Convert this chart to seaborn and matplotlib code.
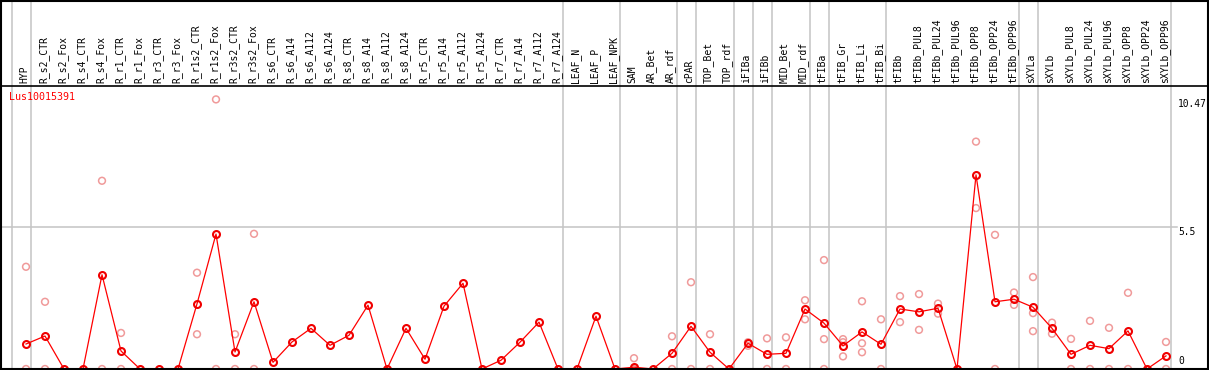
import numpy as np
import pandas as pd
import matplotlib
matplotlib.use("Agg")
import matplotlib.pyplot as plt
from matplotlib.lines import Line2D
import seaborn as sns

# ---------------- data ----------------
gene = "Lus10015391"
samples = ["HYP", "R_s2_CTR", "R_s2_Fox", "R_s4_CTR", "R_s4_Fox", "R_r1_CTR", "R_r1_Fox",
           "R_r3_CTR", "R_r3_Fox", "R_r1s2_CTR", "R_r1s2_Fox", "R_r3s2_CTR", "R_r3s2_Fox",
           "R_s6_CTR", "R_s6_A14", "R_s6_A112", "R_s6_A124", "R_s8_CTR", "R_s8_A14",
           "R_s8_A112", "R_s8_A124", "R_r5_CTR", "R_r5_A14", "R_r5_A112", "R_r5_A124",
           "R_r7_CTR", "R_r7_A14", "R_r7_A112", "R_r7_A124", "LEAF_N", "LEAF_P", "LEAF_NPK",
           "SAM", "AR_Bet", "AR_rdf", "cPAR", "TOP_Bet", "TOP_rdf", "iFIBa", "iFIBb",
           "MID_Bet", "MID_rdf", "tFIBa", "tFIB_Gr", "tFIB_Li", "tFIB_Bi", "tFIBb",
           "tFIBb_PUL8", "tFIBb_PUL24", "tFIBb_PUL96", "tFIBb_OPP8", "tFIBb_OPP24",
           "tFIBb_OPP96", "sXYLa", "sXYLb", "sXYLb_PUL8", "sXYLb_PUL24", "sXYLb_PUL96",
           "sXYLb_OPP8", "sXYLb_OPP24", "sXYLb_OPP96"]

means = [0.97, 1.28, 0, 0, 3.66, 0.70, 0, 0, 0, 2.53, 5.24, 0.66, 2.61,
         0.26, 1.05, 1.58, 0.92, 1.31, 2.48, 0, 1.58, 0.38, 2.44, 3.33, 0,
         0.34, 1.04, 1.82, 0, 0, 2.05, 0,
         0.07, 0, 0.61, 1.66, 0.65, 0, 1.00, 0.57, 0.61, 2.33, 1.78, 0.90, 1.44, 0.96,
         2.33, 2.22, 2.36, 0, 7.54, 2.61, 2.71, 2.40, 1.58, 0.57, 0.92, 0.79, 1.48, 0, 0.51]

replicates = {
    "HYP": [3.97, 0], "R_s2_CTR": [2.61, 0], "R_s4_Fox": [7.31, 0], "R_r1_CTR": [1.40, 0],
    "R_r1s2_CTR": [3.74, 1.35], "R_r1s2_Fox": [10.47, 0], "R_r3s2_CTR": [1.35, 0],
    "R_r3s2_Fox": [5.25, 0], "SAM": [0.42, 0], "AR_rdf": [1.27, 0], "cPAR": [3.37, 0],
    "TOP_Bet": [1.35, 0], "iFIBa": [1.04, 0.90], "iFIBb": [1.19, 0], "MID_Bet": [1.23, 0],
    "MID_rdf": [2.67, 1.93], "tFIBa": [4.23, 1.16, 0], "tFIB_Gr": [1.16, 1.04, 0.49],
    "tFIB_Li": [2.63, 1.00, 0.65], "tFIB_Bi": [1.93, 0], "tFIBb": [2.83, 1.82],
    "tFIBb_PUL8": [2.91, 1.52], "tFIBb_PUL24": [2.54, 2.15], "tFIBb_OPP8": [8.83, 6.25],
    "tFIBb_OPP24": [5.21, 0], "tFIBb_OPP96": [2.97, 2.49], "sXYLa": [3.57, 2.17, 1.47],
    "sXYLb": [1.80, 1.37], "sXYLb_PUL8": [1.17, 0], "sXYLb_PUL24": [1.87, 0],
    "sXYLb_PUL96": [1.60, 0], "sXYLb_OPP8": [2.96, 0], "sXYLb_OPP96": [1.05, 0],
}

y_ticks = [0, 5.5, 10.47]
y_tick_labels = ["0", "5.5", "10.47"]
group_breaks = [-1, 0, 28, 31, 34, 35, 37, 38, 39, 41, 42, 45, 52, 53, 60]

# ---------------- frames ----------------
pos = {s: i for i, s in enumerate(samples)}
mean_df = pd.DataFrame({"x": np.arange(len(samples)), "value": means})
rep_rows = [(pos[s], v) for s, vals in replicates.items() for v in vals]
rep_df = pd.DataFrame(rep_rows, columns=["x", "value"])

# ---------------- layout ----------------
W, H = 1209, 370
K = 25.75            # pixels per unit
X0, DX = 26, 19      # pixel of first column, column spacing
TOP, BOT = 85, 369   # plot region pixel rows

fig = plt.figure(figsize=(W / 100, H / 100), dpi=100)
fig.patch.set_facecolor("white")
ax = fig.add_axes([0, 1 - BOT / H, 1, (BOT - TOP) / H])
ax.set_xlim(-X0 / DX, (W - X0) / DX)
ax.set_ylim(0, (BOT - TOP) / K)
ax.axis("off")

mono = "DejaVu Sans Mono"
grid_c = "#c4c4c4"

# vertical group separators (through header too)
for b in group_breaks:
    ax.axvline(b + 4.7 / DX, ymin=0, ymax=BOT / (BOT - TOP), color=grid_c, lw=1.1,
               clip_on=False, zorder=0)
# horizontal grid at 5.5
ax.axhline(5.5, xmin=0, xmax=1177 / W, color=grid_c, lw=1.1, zorder=0)

# replicates
sns.scatterplot(data=rep_df, x="x", y="value", ax=ax, marker="o", s=24,
                facecolor="none", edgecolor="#f09a9a", linewidth=1.1,
                zorder=2, clip_on=False, legend=False)
# means
sns.lineplot(data=mean_df, x="x", y="value", ax=ax, color="#ff0000", linewidth=0.9,
             marker="o", markersize=5.0, markerfacecolor="none", markeredgecolor="#f00000",
             markeredgewidth=1.5, estimator=None, sort=False, zorder=3, clip_on=False,
             legend=False)

# header labels
xt = ax.get_xaxis_transform()
for i, s in enumerate(samples):
    ax.text(i - 1.5 / DX, 1 + 2 / (BOT - TOP), s, transform=xt, rotation=90,
            ha="center", va="bottom", fontsize=7.0, family=mono, color="black")

# right value labels
yt = ax.get_yaxis_transform()
for v, lab in zip(y_ticks, y_tick_labels):
    if v == 0:
        ax.text(1178 / W, v + 3 / K, lab, transform=yt, ha="left", va="bottom",
                fontsize=6.9, family=mono, color="black")
    else:
        ax.text(1178 / W, v, lab, transform=yt, ha="left", va="top",
                fontsize=6.9, family=mono, color="black")

# title
fig.text(9 / W, 1 - 92 / H, gene, ha="left", va="top", fontsize=7.2, family=mono,
         color="#ff0000")

# black frame lines
def hline(py, lw=1.5):
    fig.add_artist(Line2D([0, 1], [1 - py / H, 1 - py / H], color="black", lw=lw,
                          transform=fig.transFigure))

def vline(px, lw=1.5):
    fig.add_artist(Line2D([px / W, px / W], [0, 1], color="black", lw=lw,
                          transform=fig.transFigure))

hline(0.6)
hline(85.5, 1.2)
hline(369.3)
vline(0.6)
vline(1208.3)

fig.savefig("out.png", dpi=100)
